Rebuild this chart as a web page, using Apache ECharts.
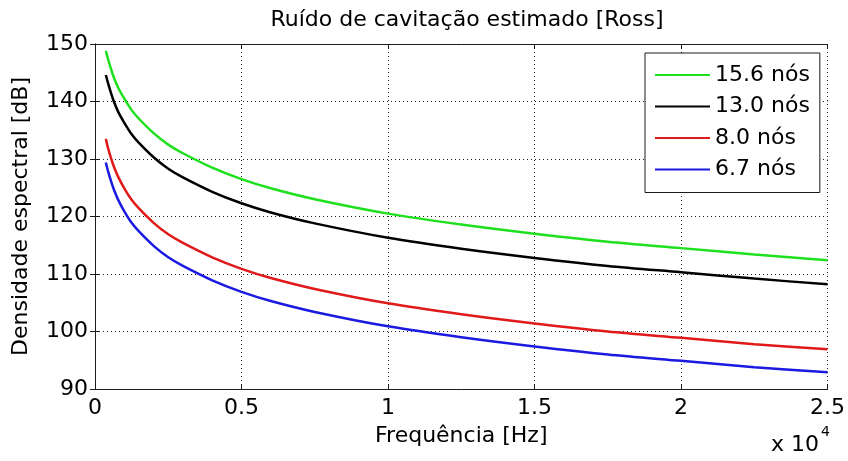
<!DOCTYPE html>
<html>
<head>
<meta charset="utf-8">
<script src="https://cdn.jsdelivr.net/npm/echarts@6/dist/echarts.min.js"></script>
<style>
  html, body { margin: 0; padding: 0; background: #fff; }
  #chart { width: 848px; height: 461px; }
</style>
</head>
<body>
<div id="chart"></div>
<script>
// Frequency samples (Hz) and spectral density (dB) per ship speed
const freqHz = [370, 450, 550, 650, 800, 1000, 1250, 1500, 2000, 2500, 3000, 4000, 5000, 6000, 7500, 10000, 12500, 15000, 17500, 20000, 22500, 25000];
const speed156 = [148.8, 147.3, 145.6, 144.1, 142.3, 140.5, 138.5, 137.0, 134.5, 132.5, 131.0, 128.5, 126.5, 124.9, 123.0, 120.5, 118.6, 117.0, 115.6, 114.5, 113.4, 112.4];
const speed130 = [144.6, 143.1, 141.4, 139.9, 138.1, 136.3, 134.3, 132.8, 130.3, 128.3, 126.8, 124.3, 122.3, 120.7, 118.8, 116.3, 114.4, 112.8, 111.4, 110.3, 109.2, 108.2];
const speed80  = [133.5, 131.8, 130.1, 128.6, 126.8, 124.9, 122.9, 121.4, 118.9, 116.9, 115.4, 112.9, 110.9, 109.3, 107.4, 104.9, 103.0, 101.4, 100.0, 98.9, 97.8, 96.9];
const speed67  = [129.4, 127.8, 126.1, 124.6, 122.8, 120.9, 118.9, 117.4, 114.9, 112.9, 111.4, 108.9, 106.9, 105.3, 103.4, 100.9, 99.0, 97.4, 96.0, 94.9, 93.8, 92.9];
const seriesNames = ['15.6 nós', '13.0 nós', '8.0 nós', '6.7 nós'];
const seriesColors = ['#1ee01e', '#000000', '#e01a1a', '#1a1ae0'];
const seriesValues = [speed156, speed130, speed80, speed67];

const FONT = 'DejaVu Sans';
const chart = echarts.init(document.getElementById('chart'), null, { renderer: 'canvas' });

const tickStyle = { show: true, inside: true, length: 5, lineStyle: { color: '#1a1a1a', width: 1 } };
const axisLine = { show: true, lineStyle: { color: '#1a1a1a', width: 1 } };
const gridLine = { show: true, lineStyle: { color: '#222', width: 1, type: [1, 3] } };

chart.setOption({
  animation: false,
  backgroundColor: '#fff',
  textStyle: { fontFamily: FONT },
  title: {
    text: 'Ruído de cavitação estimado [Ross]',
    left: 462, top: 4, textAlign: 'center',
    textStyle: { fontFamily: FONT, fontSize: 22, fontWeight: 'normal', color: '#000' }
  },
  grid: { left: 95, right: 19, top: 44, bottom: 72, containLabel: false },
  legend: {
    orient: 'vertical',
    left: 645, top: 53,
    padding: [11, 10, 12, 10],
    itemGap: 9.5,
    itemWidth: 55, itemHeight: 2,
    icon: 'rect',
    backgroundColor: '#fff',
    borderColor: '#1a1a1a', borderWidth: 1,
    textStyle: { fontFamily: FONT, fontSize: 22, color: '#000', lineHeight: 22 },
    data: seriesNames
  },
  xAxis: [{
    type: 'value', min: 0, max: 25000, interval: 5000,
    name: 'Frequência [Hz]', nameLocation: 'middle', nameGap: 36,
    nameTextStyle: { fontFamily: FONT, fontSize: 22, color: '#000' },
    axisLine: axisLine, axisTick: tickStyle, splitLine: gridLine,
    axisLabel: { fontFamily: FONT, fontSize: 22, color: '#000', margin: 8,
      formatter: v => String(v / 10000) }
  }, {
    type: 'value', min: 0, max: 25000, interval: 5000, position: 'top',
    axisLine: axisLine, axisTick: tickStyle, axisLabel: { show: false }, splitLine: { show: false }
  }],
  yAxis: [{
    type: 'value', min: 90, max: 150, interval: 10,
    name: 'Densidade espectral [dB]', nameLocation: 'middle', nameGap: 63,
    nameTextStyle: { fontFamily: FONT, fontSize: 22, color: '#000' },
    axisLine: axisLine, axisTick: tickStyle, splitLine: gridLine,
    axisLabel: { fontFamily: FONT, fontSize: 22, color: '#000', margin: 7 }
  }, {
    type: 'value', min: 90, max: 150, interval: 10, position: 'right',
    axisLine: axisLine, axisTick: tickStyle, axisLabel: { show: false }, splitLine: { show: false }
  }],
  graphic: [
    { type: 'text', left: 771, top: 434, style: { text: 'x 10', fontFamily: FONT, fontSize: 22, fill: '#000' } },
    { type: 'text', left: 821, top: 425, style: { text: '4', fontFamily: FONT, fontSize: 14, fill: '#000' } }
  ],
  series: seriesNames.map((name, i) => ({
    name: name,
    type: 'line',
    xAxisIndex: 0, yAxisIndex: 0,
    data: freqHz.map((f, k) => [f, seriesValues[i][k]]),
    showSymbol: false, symbol: 'none',
    smooth: 0.3,
    lineStyle: { color: seriesColors[i], width: 2.5 },
    itemStyle: { color: seriesColors[i] },
    z: 10 - i
  }))
});
</script>
</body>
</html>
